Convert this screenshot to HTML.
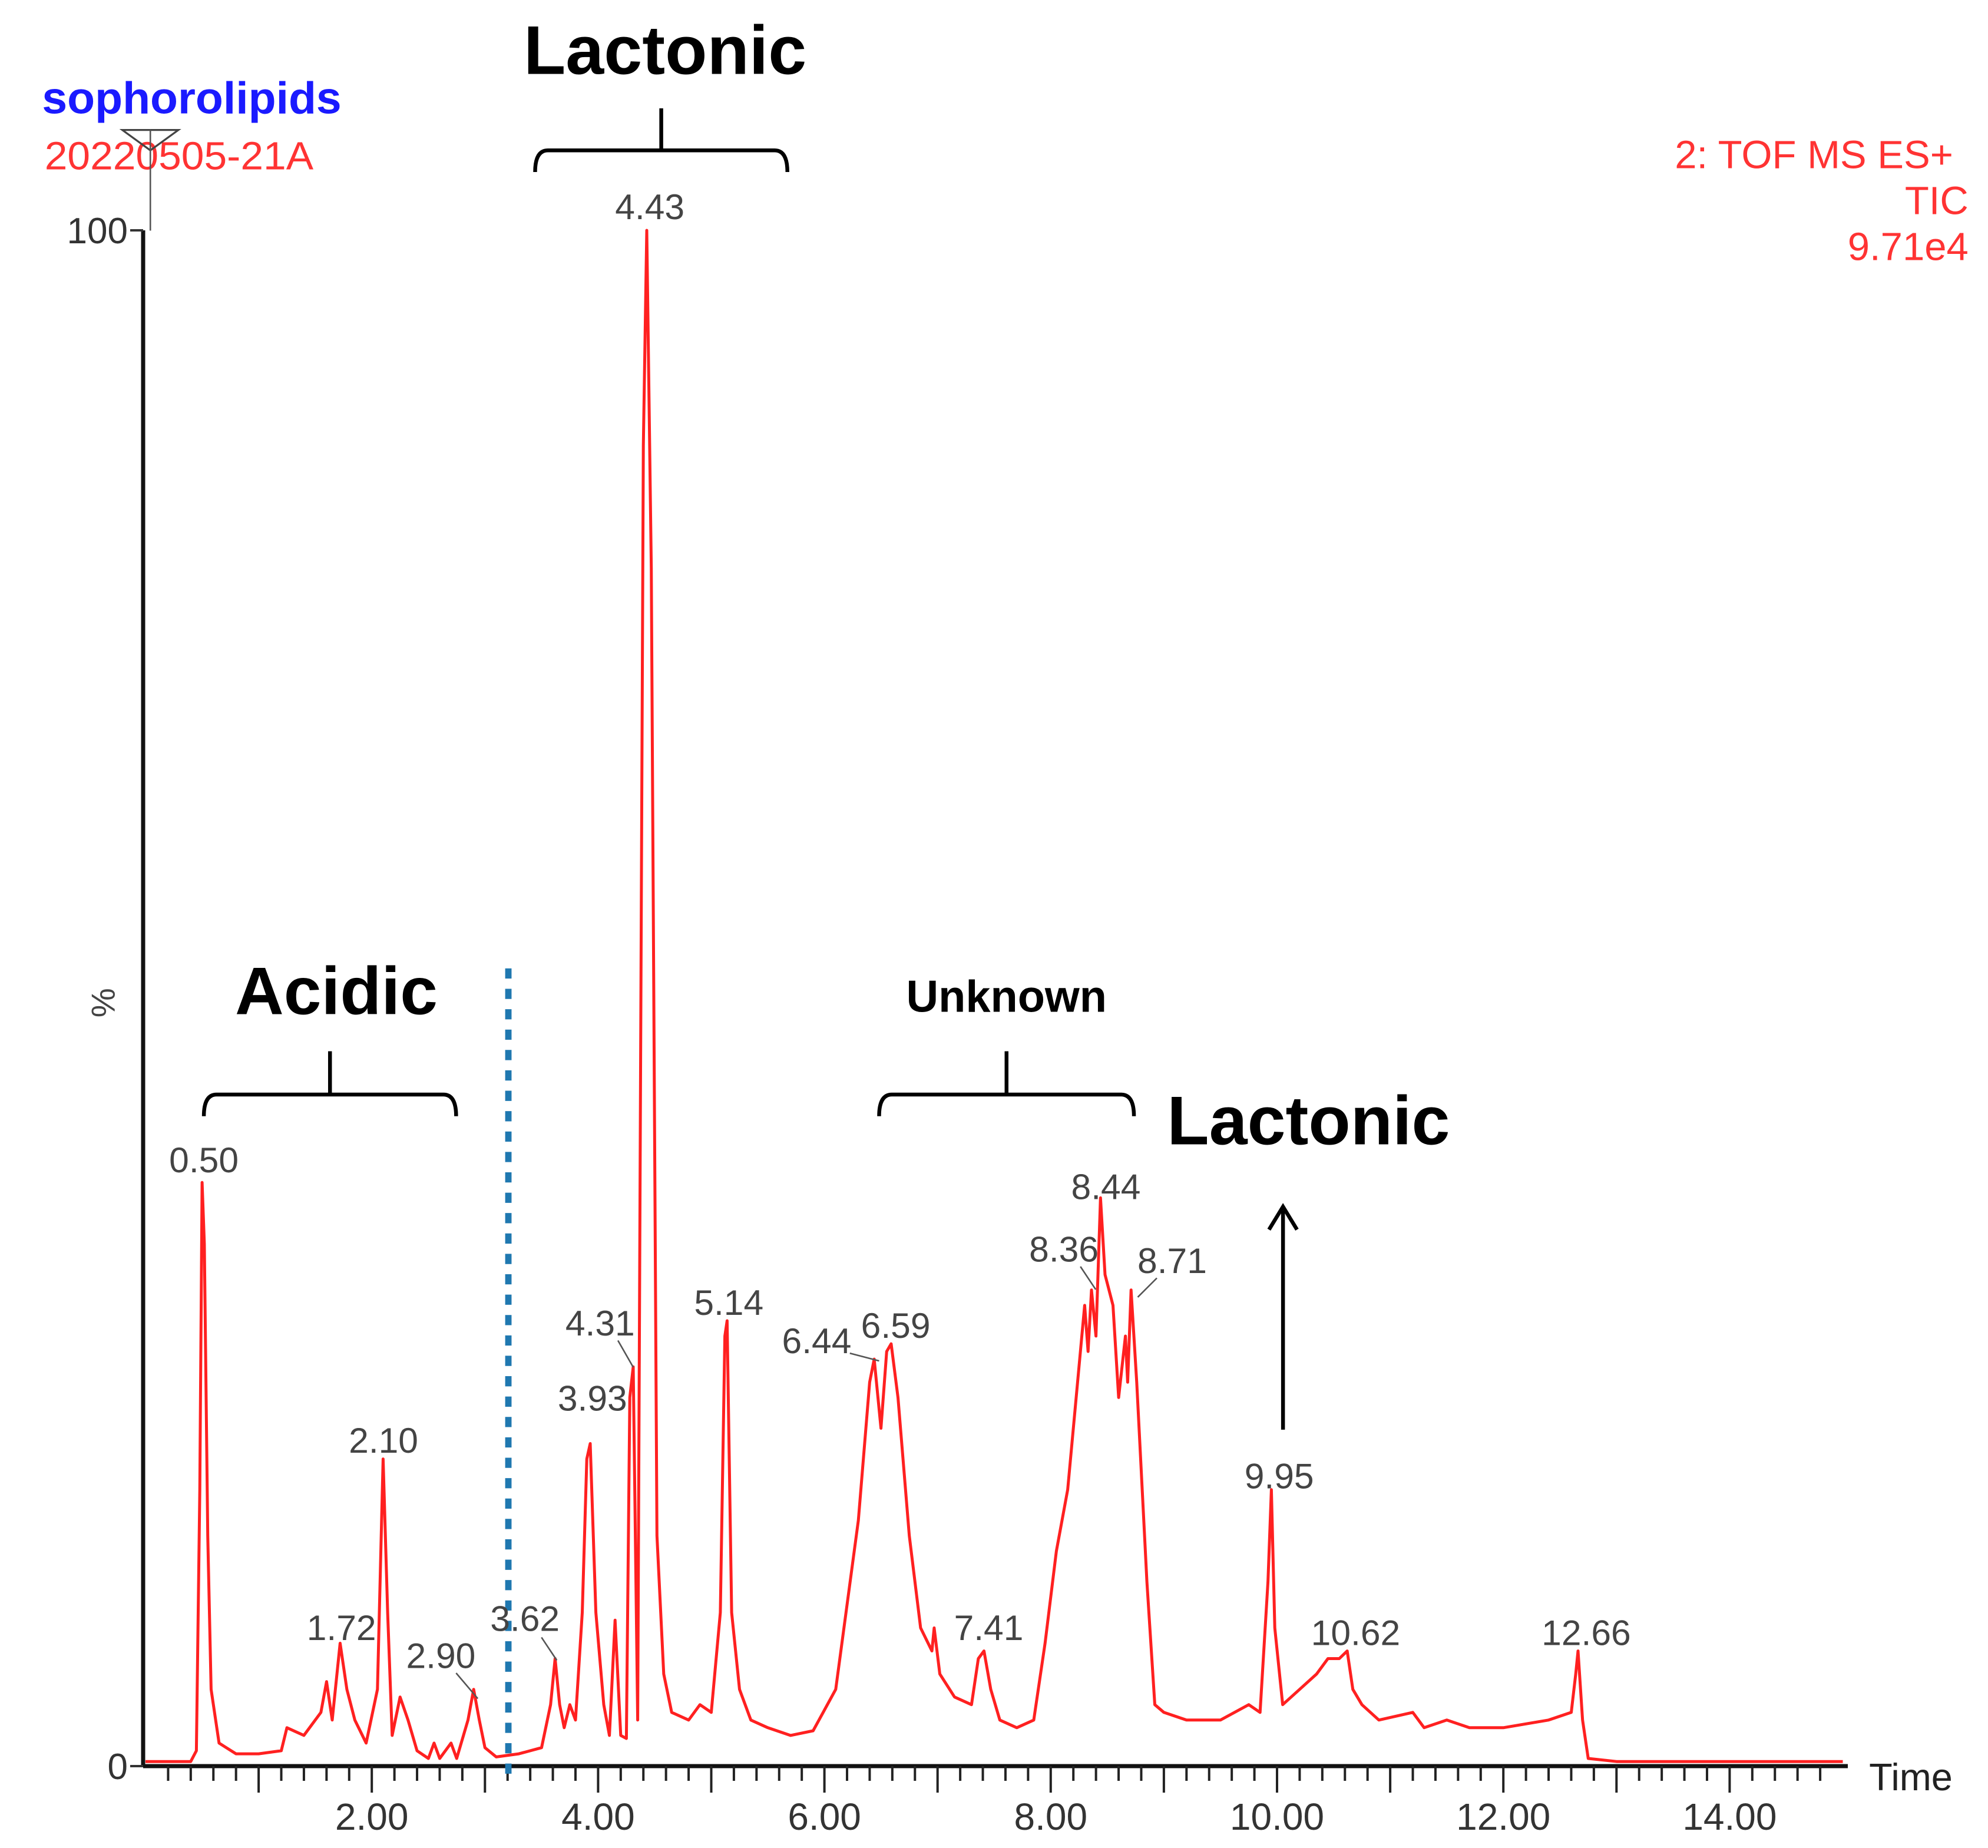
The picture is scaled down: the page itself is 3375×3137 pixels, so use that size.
<!DOCTYPE html>
<html><head><meta charset="utf-8"><style>
html,body{margin:0;padding:0;background:#fff;}
svg{display:block;font-family:"Liberation Sans",Arial,sans-serif;}
</style></head><body>
<svg id="chart" width="3375" height="3137" viewBox="0 0 3375 3137" xmlns="http://www.w3.org/2000/svg">
<g id="axes"></g>
<g id="trace"></g>
<g id="ann" transform="scale(2.163)">
  <text x="33" y="89" font-size="35" font-weight="bold" fill="#1a1aff" textLength="235" lengthAdjust="spacingAndGlyphs">sophorolipids</text>
  <text x="35" y="133" font-size="31" fill="#ff3333" textLength="211" lengthAdjust="spacingAndGlyphs">20220505-21A</text>
  <polygon points="96,102 140,102 118,118" fill="none" stroke="#444" stroke-width="1.5"/>
  <line x1="118" y1="102" x2="118" y2="181" stroke="#555" stroke-width="1.2"/>
  <g font-size="31" fill="#ff3333" text-anchor="end">
    <text x="1533" y="132">2: TOF MS ES+</text>
    <text x="1545" y="168">TIC</text>
    <text x="1545" y="204">9.71e4</text>
  </g>
  <text x="90" y="787" font-size="26" fill="#444" transform="rotate(-90 90 787)" text-anchor="middle">%</text>
  <text x="1467" y="1405" font-size="30" fill="#222">Time</text>
  <text x="522" y="58" font-size="54" font-weight="bold" text-anchor="middle" fill="#000">Lactonic</text>
  <path d="M420,135 Q420,118 430,118 L519,118 L519,85 M519,118 L608,118 Q618,118 618,135" fill="none" stroke="#000" stroke-width="3"/>
  <text x="264" y="796" font-size="53" font-weight="bold" text-anchor="middle" fill="#000">Acidic</text>
  <path d="M160,876 Q160,859 170,859 L259,859 L259,825 M259,859 L348,859 Q358,859 358,876" fill="none" stroke="#000" stroke-width="3"/>
  <text x="790" y="794" font-size="35" font-weight="bold" text-anchor="middle" fill="#000">Unknown</text>
  <path d="M690,876 Q690,859 700,859 L790,859 L790,825 M790,859 L880,859 Q890,859 890,876" fill="none" stroke="#000" stroke-width="3"/>
  <text x="1027" y="898" font-size="54" font-weight="bold" text-anchor="middle" fill="#000">Lactonic</text>
  <line x1="1007" y1="1122" x2="1007" y2="950" stroke="#000" stroke-width="3"/>
  <polyline points="996,965 1007,947 1018,965" fill="none" stroke="#000" stroke-width="3"/>
  <line x1="399" y1="760" x2="399" y2="1393" stroke="#1f78b0" stroke-width="5" stroke-dasharray="8,8"/>
  <g font-size="28" fill="#444" text-anchor="middle">
    <text x="160" y="920">0.50</text>
    <text x="268" y="1287">1.72</text>
    <text x="301" y="1140">2.10</text>
    <text x="346" y="1309">2.90</text>
    <line x1="358" y1="1313" x2="375" y2="1333" stroke="#555" stroke-width="1.2"/>
    <text x="412" y="1280">3.62</text>
    <line x1="425" y1="1285" x2="437" y2="1303" stroke="#555" stroke-width="1.2"/>
    <text x="465" y="1107">3.93</text>
    <text x="471" y="1048">4.31</text>
    <line x1="485" y1="1052" x2="497" y2="1073" stroke="#555" stroke-width="1.2"/>
    <text x="510" y="172">4.43</text>
    <text x="572" y="1032">5.14</text>
    <text x="641" y="1062">6.44</text>
    <line x1="667" y1="1062" x2="690" y2="1068" stroke="#555" stroke-width="1.2"/>
    <text x="703" y="1050">6.59</text>
    <text x="776" y="1287">7.41</text>
    <text x="835" y="990">8.36</text>
    <line x1="848" y1="994" x2="860" y2="1012" stroke="#555" stroke-width="1.2"/>
    <text x="868" y="941">8.44</text>
    <text x="920" y="999">8.71</text>
    <line x1="908" y1="1003" x2="893" y2="1018" stroke="#555" stroke-width="1.2"/>
    <text x="1004" y="1168">9.95</text>
    <text x="1064" y="1291">10.62</text>
    <text x="1245" y="1291">12.66</text>
  </g>
</g>
</svg>
<script>
const times = [0,0.4,0.45,0.48,0.5,0.52,0.55,0.58,0.65,0.8,1.0,1.2,1.25,1.4,1.55,1.6,1.65,1.72,1.78,1.85,1.95,2.05,2.1,2.14,2.18,2.25,2.32,2.4,2.5,2.55,2.6,2.7,2.75,2.85,2.9,2.95,3.0,3.1,3.3,3.5,3.58,3.62,3.66,3.7,3.75,3.8,3.86,3.9,3.93,3.98,4.05,4.1,4.15,4.2,4.25,4.28,4.31,4.35,4.4,4.43,4.47,4.52,4.58,4.65,4.8,4.9,5.0,5.08,5.12,5.14,5.18,5.25,5.35,5.5,5.7,5.9,6.1,6.3,6.4,6.44,6.5,6.55,6.59,6.65,6.75,6.85,6.95,6.97,7.02,7.15,7.3,7.36,7.41,7.47,7.55,7.7,7.85,7.95,8.05,8.15,8.25,8.3,8.33,8.36,8.4,8.44,8.48,8.55,8.6,8.66,8.68,8.71,8.76,8.85,8.92,9.0,9.2,9.5,9.75,9.85,9.92,9.95,9.98,10.05,10.2,10.35,10.45,10.55,10.62,10.67,10.75,10.9,11.2,11.3,11.5,11.7,12.0,12.4,12.6,12.64,12.66,12.7,12.75,13.0,15.0];
const intensities = [0.3,0.3,1,18,38,34,15,5,1.5,0.8,0.8,1,2.5,2,3.5,5.5,3,8,5,3,1.5,5,20,10,2,4.5,3,1,0.5,1.5,0.5,1.5,0.5,3,5,3,1.2,0.6,0.8,1.2,4,7,4,2.5,4,3,10,20,21,10,4,2,9.5,2,1.8,24,26,3,86,100,78,15,6,3.5,3,4,3.5,10,28,29,10,5,3,2.5,2,2.3,5,16,25,26.5,22,27,27.5,24,15,9,7.5,9,6,4.5,4,7,7.5,5,3,2.5,3,8,14,18,26,30,27,31,28,37,32,30,24,28,25,31,25,12,4,3.5,3,3,4,3.5,12,18,9,4,5,6,7,7,7.5,5,4,3,3.5,2.5,3,2.5,2.5,3,3.5,6,7.5,3,0.5,0.3,0.3];
const xTickLabels = ["2.00","4.00","6.00","8.00","10.00","12.00","14.00"];
const xTickValues = [2,4,6,8,10,12,14];
const yTickLabels = ["0","100"];
const yTickValues = [0,100];

const NS="http://www.w3.org/2000/svg";
const X0=247, PXMIN=192.1, Y0=2998, PXPCT=26.07;
function xs(t){return X0+PXMIN*t;}
function ys(p){return Y0-PXPCT*p;}
function mk(tag,attrs,parent){const e=document.createElementNS(NS,tag);for(const k in attrs)e.setAttribute(k,attrs[k]);parent.appendChild(e);return e;}
const axes=document.getElementById('axes');
const xa=mk('line',{x1:X0-4,y1:Y0,x2:3137,y2:Y0,stroke:'#111','stroke-width':7},axes);


const ya=mk('line',{x1:X0-4,y1:ys(100),x2:X0-4,y2:Y0,stroke:'#111','stroke-width':7},axes);


for(let i=1;i<=74;i++){const t=i*0.2;const major=Math.abs(t-Math.round(t))<1e-6;
  const tk=mk('line',{x1:xs(t),y1:Y0,x2:xs(t),y2:Y0+(major?45:25),stroke:'#222','stroke-width':4},axes);
  
  }
xTickValues.forEach((v,i)=>{const tx=mk('text',{x:xs(v),y:3106,'font-size':64,'text-anchor':'middle',fill:'#333'},axes);tx.textContent=xTickLabels[i];
  
  });
yTickValues.forEach((v,i)=>{const tk=mk('line',{x1:X0-26,y1:ys(v),x2:X0-4,y2:ys(v),stroke:'#333','stroke-width':4},axes);
  
  
  const tx=mk('text',{x:X0-30,y:ys(v)+22,'font-size':62,'text-anchor':'end',fill:'#333'},axes);tx.textContent=yTickLabels[i];
  
  });
const pts=times.map((t,i)=>xs(t).toFixed(1)+','+ys(intensities[i]).toFixed(1)).join(' ');
const line=mk('polyline',{points:pts,fill:'none',stroke:'#ff2020','stroke-width':5,'stroke-linejoin':'round'},document.getElementById('trace'));


</script>
</body></html>
